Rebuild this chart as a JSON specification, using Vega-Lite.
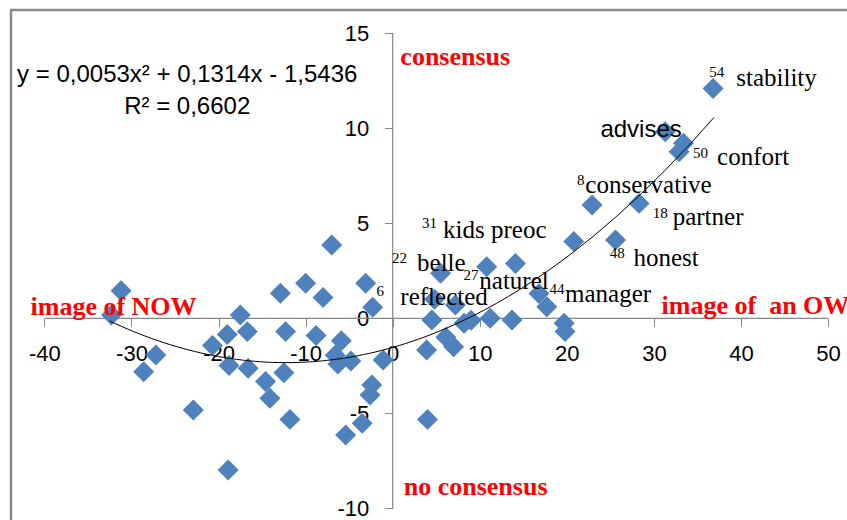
{
  "$schema": "https://vega.github.io/schema/vega-lite/v6.json",
  "width": 840,
  "height": 515,
  "autosize": {"type": "none"},
  "padding": {"left": 11, "top": 10, "right": 0, "bottom": 0},
  "background": "white",
  "config": {
    "view": {"stroke": "#8a8a8a", "strokeWidth": 2.5},
    "axis": {"grid": false, "domain": false, "title": null}
  },
  "datasets": {
    "points": [
      {"x": -31.2, "y": 1.45}, {"x": -32.3, "y": 0.17}, {"x": -27.2, "y": -1.93}, {"x": -28.6, "y": -2.81},
      {"x": -22.9, "y": -4.83}, {"x": -20.7, "y": -1.43}, {"x": -19.0, "y": -0.85}, {"x": -17.5, "y": 0.17},
      {"x": -16.7, "y": -0.7}, {"x": -18.8, "y": -2.48}, {"x": -16.6, "y": -2.63}, {"x": -18.9, "y": -7.98},
      {"x": -14.6, "y": -3.33}, {"x": -14.1, "y": -4.21}, {"x": -11.8, "y": -5.32}, {"x": -12.5, "y": -2.86},
      {"x": -12.3, "y": -0.7}, {"x": -12.9, "y": 1.32}, {"x": -10.0, "y": 1.84}, {"x": -8.0, "y": 1.1},
      {"x": -8.8, "y": -0.9}, {"x": -5.9, "y": -1.18}, {"x": -6.6, "y": -1.95}, {"x": -6.3, "y": -2.4},
      {"x": -4.8, "y": -2.25}, {"x": -2.4, "y": -3.51}, {"x": -2.6, "y": -4.04}, {"x": -3.5, "y": -5.53},
      {"x": -5.4, "y": -6.14}, {"x": -1.1, "y": -2.2}, {"x": -3.1, "y": 1.84}, {"x": -2.3, "y": 0.58},
      {"x": -7.0, "y": 3.86}, {"x": 4.0, "y": -5.32}, {"x": 36.8, "y": 12.1}, {"x": 31.3, "y": 9.82},
      {"x": 33.4, "y": 9.21}, {"x": 32.9, "y": 8.77}, {"x": 22.9, "y": 5.96}, {"x": 28.3, "y": 6.05},
      {"x": 25.6, "y": 4.12}, {"x": 20.8, "y": 4.05}, {"x": 14.1, "y": 2.89}, {"x": 10.8, "y": 2.72},
      {"x": 5.5, "y": 2.37}, {"x": 4.8, "y": 1.0}, {"x": 7.2, "y": 0.7}, {"x": 4.5, "y": -0.09},
      {"x": 8.2, "y": -0.26}, {"x": 9.0, "y": -0.1}, {"x": 11.2, "y": 0.0}, {"x": 13.7, "y": -0.09},
      {"x": 16.8, "y": 1.3}, {"x": 17.7, "y": 0.61}, {"x": 19.7, "y": -0.26}, {"x": 19.8, "y": -0.7},
      {"x": 6.1, "y": -1.0}, {"x": 7.0, "y": -1.5}, {"x": 3.9, "y": -1.67}
    ],
    "hline": [{"x": -40, "x2": 50, "y": 0}],
    "vline": [{"x": 0, "y": -10, "y2": 15}],
    "words": [
      {"x": 39.46, "y": 12.22, "t": "stability"},
      {"x": 37.26, "y": 8.07, "t": "confort"},
      {"x": 22.13, "y": 6.58, "t": "conservative"},
      {"x": 32.16, "y": 4.91, "t": "partner"},
      {"x": 27.65, "y": 2.75, "t": "honest"},
      {"x": 5.79, "y": 4.21, "t": "kids preoc"},
      {"x": 2.8, "y": 2.51, "t": "belle"},
      {"x": 0.88, "y": 0.7, "t": "reflected"},
      {"x": 9.95, "y": 1.54, "t": "naturel"},
      {"x": 19.8, "y": 0.87, "t": "manager"}
    ],
    "nums": [
      {"x": 36.36, "y": 12.68, "t": "54"},
      {"x": 34.5, "y": 8.42, "t": "50"},
      {"x": 21.18, "y": 7.02, "t": "8"},
      {"x": 29.86, "y": 5.26, "t": "18"},
      {"x": 24.92, "y": 3.16, "t": "48"},
      {"x": 3.38, "y": 4.74, "t": "31"},
      {"x": -0.07, "y": 2.89, "t": "22"},
      {"x": -1.87, "y": 1.17, "t": "6"},
      {"x": 8.12, "y": 2.02, "t": "27"},
      {"x": 18.0, "y": 1.3, "t": "44"}
    ],
    "quadrants": [
      {"x": 0.88, "y": 13.33, "t": "consensus"},
      {"x": 1.27, "y": -9.3, "t": "no consensus"},
      {"x": -41.6, "y": 0.17, "t": "image of NOW"},
      {"x": 30.88, "y": 0.23, "t": "image of \u00a0an OW"}
    ],
    "sans": [
      {"x": 23.86, "y": 9.56, "t": "advises"}
    ],
    "equation": [
      {"x": -23.6, "y": 12.8, "t": "y = 0,0053x² + 0,1314x - 1,5436"},
      {"x": -23.6, "y": 11.14, "t": "R² = 0,6602"}
    ]
  },
  "encoding": {
    "x": {
      "field": "x", "type": "quantitative",
      "scale": {"domain": [-43.84, 52.64], "nice": false, "zero": false},
      "axis": {
        "orient": "bottom", "offset": -206.7, "values": [-40, -30, -20, -10, 0, 10, 20, 30, 40, 50],
        "ticks": true, "tickSize": 8, "tickColor": "#868686", "tickWidth": 1,
        "labelFont": "Liberation Sans", "labelFontSize": 22, "labelColor": "#000000",
        "labelPadding": 17, "labelExpr": "'' + datum.value", "labelOverlap": false, "labelFlush": false
      }
    },
    "y": {
      "field": "y", "type": "quantitative",
      "scale": {"domain": [-10.88, 16.23], "nice": false, "zero": false},
      "axis": {
        "orient": "left", "offset": -381.7, "values": [-10, -5, 0, 5, 10, 15],
        "ticks": true, "tickSize": 8, "tickColor": "#868686", "tickWidth": 1,
        "labelFont": "Liberation Sans", "labelFontSize": 22, "labelColor": "#000000",
        "labelPadding": 16, "labelExpr": "'' + datum.value", "labelOverlap": false, "labelFlush": false
      }
    }
  },
  "layer": [
    {
      "data": {"name": "hline"},
      "mark": {"type": "rule", "color": "#868686", "strokeWidth": 1.2},
      "encoding": {"x2": {"field": "x2"}}
    },
    {
      "data": {"name": "vline"},
      "mark": {"type": "rule", "color": "#868686", "strokeWidth": 1.2},
      "encoding": {"y2": {"field": "y2"}}
    },
    {
      "data": {"name": "points"},
      "mark": {"type": "point", "shape": "diamond", "filled": true, "color": "#4F81BD", "opacity": 1, "size": 440}
    },
    {
      "data": {"name": "points"},
      "transform": [
        {"regression": "y", "on": "x", "method": "poly", "order": 2, "extent": [-32.5, 36.9]}
      ],
      "mark": {"type": "line", "color": "#000000", "strokeWidth": 1}
    },
    {
      "data": {"name": "words"},
      "mark": {"type": "text", "align": "left", "baseline": "alphabetic", "font": "Liberation Serif", "fontSize": 25, "color": "#000000"},
      "encoding": {"text": {"field": "t"}}
    },
    {
      "data": {"name": "nums"},
      "mark": {"type": "text", "align": "left", "baseline": "alphabetic", "font": "Liberation Serif", "fontSize": 15, "color": "#000000"},
      "encoding": {"text": {"field": "t"}}
    },
    {
      "data": {"name": "quadrants"},
      "mark": {"type": "text", "align": "left", "baseline": "alphabetic", "font": "Liberation Serif", "fontWeight": "bold", "fontSize": 26, "color": "#FF0000"},
      "encoding": {"text": {"field": "t"}}
    },
    {
      "data": {"name": "sans"},
      "mark": {"type": "text", "align": "left", "baseline": "alphabetic", "font": "Liberation Sans", "fontSize": 24, "color": "#000000"},
      "encoding": {"text": {"field": "t"}}
    },
    {
      "data": {"name": "equation"},
      "mark": {"type": "text", "align": "center", "baseline": "middle", "font": "Liberation Sans", "fontSize": 24, "color": "#000000"},
      "encoding": {"text": {"field": "t"}}
    }
  ]
}
